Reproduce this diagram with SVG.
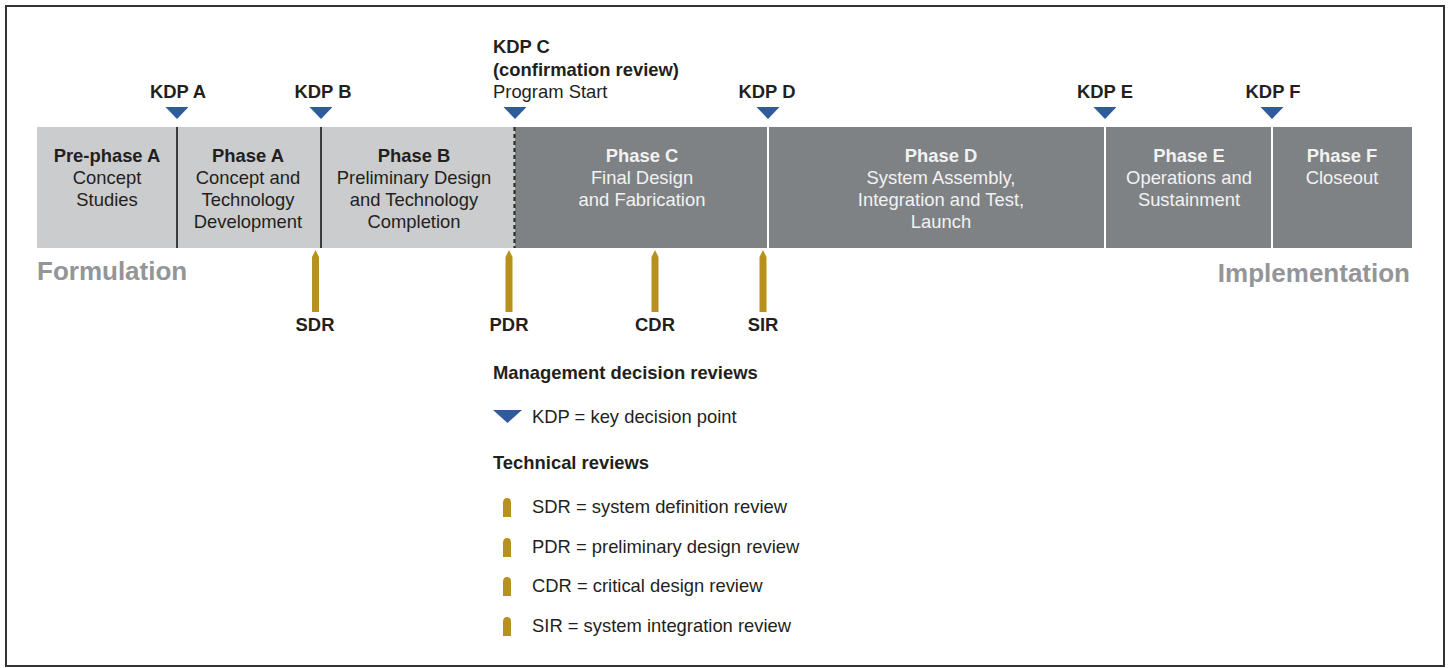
<svg xmlns="http://www.w3.org/2000/svg" width="1449" height="668" viewBox="0 0 1449 668">
<style>
text{font-family:"Liberation Sans",Arial,sans-serif;font-size:18.4px;fill:#231f20}
.b{font-weight:bold}
.c{text-anchor:middle}
.w{fill:#f2f2f2}
.big{font-size:26px;font-weight:bold;fill:#939598}
.kdp{fill:#2f5a9e}
.rod{fill:#b8911d}
</style>
<defs>
<polygon id="tri" points="-11.5,0 11.5,0 0,12" class="kdp"/>
<path id="rod" d="M-3.5,62 V7 L0,0 L3.5,7 V62 Z" class="rod"/>
<path id="lrod" d="M-4,19 V5 Q-4,0 0,0 Q4,0 4,5 V19 Z" class="rod"/>
</defs>
<rect x="6" y="6" width="1438" height="660" fill="#ffffff" stroke="#333" stroke-width="2"/>

<g id="bar">
<rect x="37" y="127" width="478" height="121" fill="#cbcccd"/>
<rect x="515" y="127" width="897" height="121" fill="#7f8285"/>
</g>

<g id="connectors">
<line x1="177" y1="127" x2="177" y2="248" stroke="#3c3c3c" stroke-width="2"/>
<line x1="321" y1="127" x2="321" y2="248" stroke="#3c3c3c" stroke-width="2"/>
<line x1="514.5" y1="127" x2="514.5" y2="248" stroke="#2e2e2e" stroke-width="2.2" stroke-dasharray="4,3"/>
<line x1="768" y1="127" x2="768" y2="248" stroke="#ffffff" stroke-width="2"/>
<line x1="1105" y1="127" x2="1105" y2="248" stroke="#ffffff" stroke-width="2"/>
<line x1="1272" y1="127" x2="1272" y2="248" stroke="#ffffff" stroke-width="2"/>
</g>

<g id="prephaseA">
<text class="b c" x="107" y="162">Pre-phase A</text>
<text class="c" x="107" y="184">Concept</text>
<text class="c" x="107" y="206">Studies</text>
</g>
<g id="phaseA">
<text class="b c" x="248" y="162">Phase A</text>
<text class="c" x="248" y="184">Concept and</text>
<text class="c" x="248" y="206">Technology</text>
<text class="c" x="248" y="228">Development</text>
</g>
<g id="phaseB">
<text class="b c" x="414" y="162">Phase B</text>
<text class="c" x="414" y="184">Preliminary Design</text>
<text class="c" x="414" y="206">and Technology</text>
<text class="c" x="414" y="228">Completion</text>
</g>
<g id="phaseC">
<text class="b c w" x="642" y="162">Phase C</text>
<text class="c w" x="642" y="184">Final Design</text>
<text class="c w" x="642" y="206">and Fabrication</text>
</g>
<g id="phaseD">
<text class="b c w" x="941" y="162">Phase D</text>
<text class="c w" x="941" y="184">System Assembly,</text>
<text class="c w" x="941" y="206">Integration and Test,</text>
<text class="c w" x="941" y="228">Launch</text>
</g>
<g id="phaseE">
<text class="b c w" x="1189" y="162">Phase E</text>
<text class="c w" x="1189" y="184">Operations and</text>
<text class="c w" x="1189" y="206">Sustainment</text>
</g>
<g id="phaseF">
<text class="b c w" x="1342" y="162">Phase F</text>
<text class="c w" x="1342" y="184">Closeout</text>
</g>

<g id="kdpA"><use href="#tri" x="177" y="107"/><text class="b c" x="178" y="98">KDP A</text></g>
<g id="kdpB"><use href="#tri" x="321" y="107"/><text class="b c" x="323" y="98">KDP B</text></g>
<g id="kdpC"><use href="#tri" x="515" y="107"/>
<text class="b" x="493" y="53">KDP C</text>
<text class="b" x="493" y="76">(confirmation review)</text>
<text x="493" y="98">Program Start</text></g>
<g id="kdpD"><use href="#tri" x="768" y="107"/><text class="b c" x="767" y="98">KDP D</text></g>
<g id="kdpE"><use href="#tri" x="1105" y="107"/><text class="b c" x="1105" y="98">KDP E</text></g>
<g id="kdpF"><use href="#tri" x="1272" y="107"/><text class="b c" x="1273" y="98">KDP F</text></g>

<g id="sdr"><use href="#rod" x="315.5" y="250"/><text class="b c" x="315" y="331">SDR</text></g>
<g id="pdr"><use href="#rod" x="509" y="250"/><text class="b c" x="509" y="331">PDR</text></g>
<g id="cdr"><use href="#rod" x="655" y="250"/><text class="b c" x="655" y="331">CDR</text></g>
<g id="sir"><use href="#rod" x="763" y="250"/><text class="b c" x="763" y="331">SIR</text></g>

<g id="formulation"><text class="big" x="37" y="280">Formulation</text></g>
<g id="implementation"><text class="big" x="1410" y="282" text-anchor="end">Implementation</text></g>

<g id="legend">
<text class="b" x="493" y="379">Management decision reviews</text>
<polygon points="493,410 522,410 507.5,423" class="kdp"/>
<text x="532" y="423">KDP = key decision point</text>
<text class="b" x="493" y="469">Technical reviews</text>
<use href="#lrod" x="507" y="498"/>
<text x="532" y="513">SDR = system definition review</text>
<use href="#lrod" x="507" y="538"/>
<text x="532" y="553">PDR = preliminary design review</text>
<use href="#lrod" x="507" y="577"/>
<text x="532" y="592">CDR = critical design review</text>
<use href="#lrod" x="507" y="617"/>
<text x="532" y="632">SIR = system integration review</text>
</g>
</svg>
